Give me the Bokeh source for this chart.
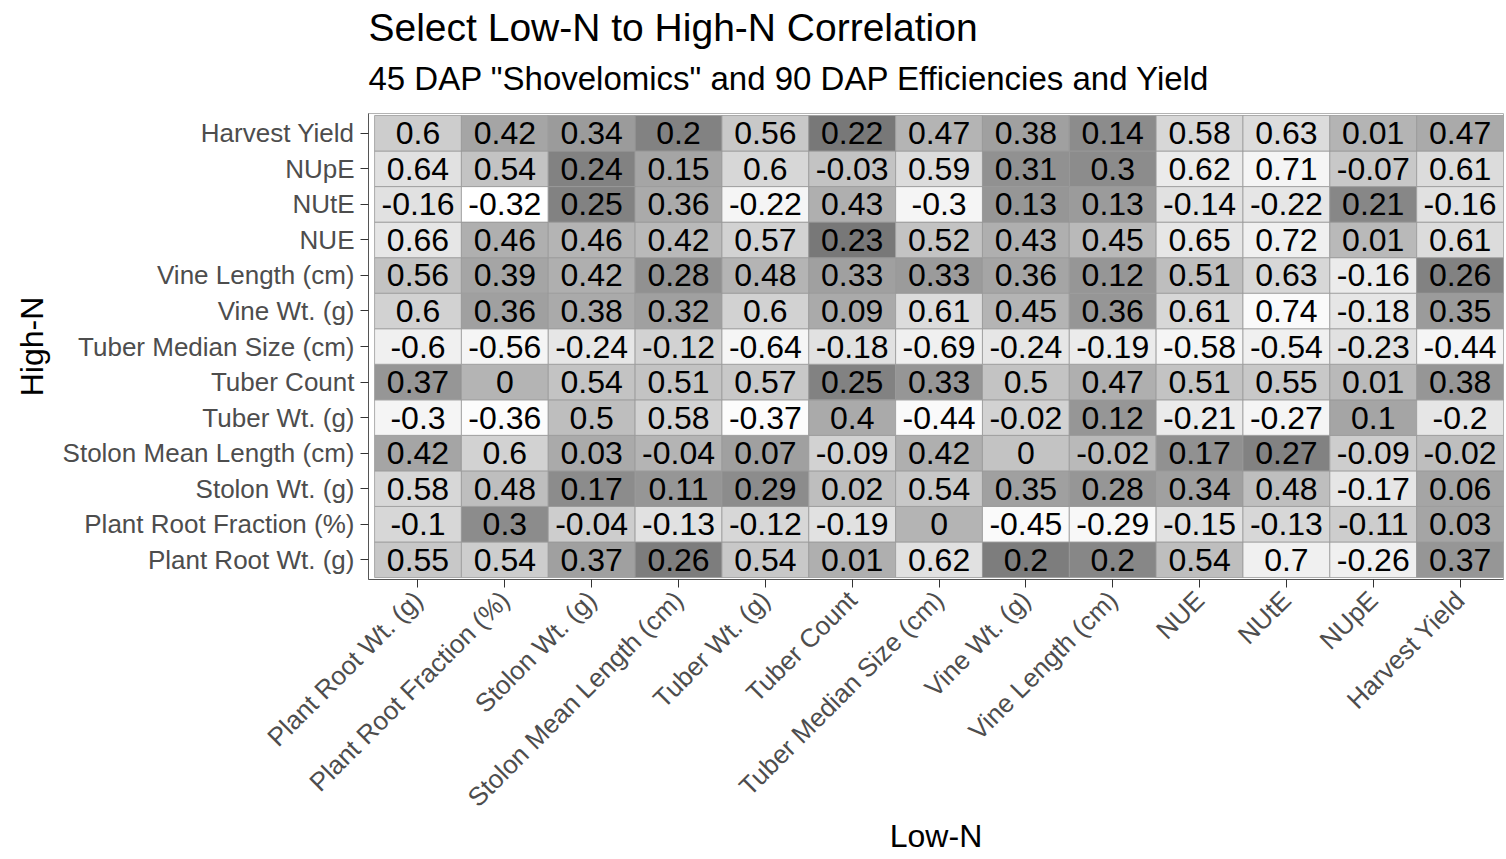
import math
from bokeh.plotting import figure
from bokeh.models import (ColumnDataSource, LinearColorMapper, FixedTicker, Range1d, Title)
from bokeh.transform import transform
from bokeh.core.properties import value
from bokeh.embed import file_html
from bokeh.resources import INLINE

# ---------------- data ----------------
traits = ["Plant Root Wt. (g)", "Plant Root Fraction (%)", "Stolon Wt. (g)",
          "Stolon Mean Length (cm)", "Tuber Wt. (g)", "Tuber Count",
          "Tuber Median Size (cm)", "Vine Wt. (g)", "Vine Length (cm)",
          "NUE", "NUtE", "NUpE", "Harvest Yield"]

# correlation values: one list per High-N trait (columns = Low-N traits, same order as traits)
r_plant_root_wt = [0.55, 0.54, 0.37, 0.26, 0.54, 0.01, 0.62, 0.2, 0.2, 0.54, 0.7, -0.26, 0.37]
r_plant_root_frac = [-0.1, 0.3, -0.04, -0.13, -0.12, -0.19, 0, -0.45, -0.29, -0.15, -0.13, -0.11, 0.03]
r_stolon_wt = [0.58, 0.48, 0.17, 0.11, 0.29, 0.02, 0.54, 0.35, 0.28, 0.34, 0.48, -0.17, 0.06]
r_stolon_len = [0.42, 0.6, 0.03, -0.04, 0.07, -0.09, 0.42, 0, -0.02, 0.17, 0.27, -0.09, -0.02]
r_tuber_wt = [-0.3, -0.36, 0.5, 0.58, -0.37, 0.4, -0.44, -0.02, 0.12, -0.21, -0.27, 0.1, -0.2]
r_tuber_count = [0.37, 0, 0.54, 0.51, 0.57, 0.25, 0.33, 0.5, 0.47, 0.51, 0.55, 0.01, 0.38]
r_tuber_size = [-0.6, -0.56, -0.24, -0.12, -0.64, -0.18, -0.69, -0.24, -0.19, -0.58, -0.54, -0.23, -0.44]
r_vine_wt = [0.6, 0.36, 0.38, 0.32, 0.6, 0.09, 0.61, 0.45, 0.36, 0.61, 0.74, -0.18, 0.35]
r_vine_len = [0.56, 0.39, 0.42, 0.28, 0.48, 0.33, 0.33, 0.36, 0.12, 0.51, 0.63, -0.16, 0.26]
r_nue = [0.66, 0.46, 0.46, 0.42, 0.57, 0.23, 0.52, 0.43, 0.45, 0.65, 0.72, 0.01, 0.61]
r_nute = [-0.16, -0.32, 0.25, 0.36, -0.22, 0.43, -0.3, 0.13, 0.13, -0.14, -0.22, 0.21, -0.16]
r_nupe = [0.64, 0.54, 0.24, 0.15, 0.6, -0.03, 0.59, 0.31, 0.3, 0.62, 0.71, -0.07, 0.61]
r_harvest = [0.6, 0.42, 0.34, 0.2, 0.56, 0.22, 0.47, 0.38, 0.14, 0.58, 0.63, 0.01, 0.47]

# fill variable (darkness level 0-255, read from the tile shading)
s_plant_root_wt = [55, 50, 95, 130, 55, 80, 30, 130, 120, 65, 15, 15, 105]
s_plant_root_frac = [40, 115, 50, 30, 40, 30, 75, 5, 7, 30, 40, 50, 90]
s_stolon_wt = [40, 65, 115, 105, 115, 65, 55, 95, 105, 95, 65, 25, 90]
s_stolon_len = [90, 45, 85, 75, 95, 45, 80, 60, 70, 110, 125, 50, 65]
s_tuber_wt = [10, 3, 65, 45, 3, 85, 5, 45, 105, 20, 10, 90, 25]
s_tuber_count = [105, 75, 60, 60, 55, 125, 105, 60, 80, 60, 55, 70, 105]
s_tuber_size = [15, 10, 25, 45, 10, 30, 15, 25, 20, 10, 15, 30, 10]
s_vine_wt = [45, 95, 85, 95, 45, 85, 35, 75, 105, 40, 5, 25, 100]
s_vine_len = [60, 90, 80, 110, 75, 95, 100, 90, 105, 65, 40, 20, 125]
s_nue = [25, 80, 75, 70, 45, 135, 60, 80, 70, 25, 15, 70, 35]
s_nute = [30, 0, 125, 85, 10, 80, 10, 105, 100, 30, 25, 120, 30]
s_nupe = [30, 60, 125, 90, 40, 60, 35, 110, 115, 20, 10, 55, 35]
s_harvest = [50, 90, 100, 125, 55, 135, 75, 95, 115, 40, 35, 75, 85]

rows_r = [r_plant_root_wt, r_plant_root_frac, r_stolon_wt, r_stolon_len, r_tuber_wt,
          r_tuber_count, r_tuber_size, r_vine_wt, r_vine_len, r_nue, r_nute, r_nupe, r_harvest]
rows_s = [s_plant_root_wt, s_plant_root_frac, s_stolon_wt, s_stolon_len, s_tuber_wt,
          s_tuber_count, s_tuber_size, s_vine_wt, s_vine_len, s_nue, s_nute, s_nupe, s_harvest]

xs, ys, vals, shades, labels = [], [], [], [], []
for yi, (rr, ss) in enumerate(zip(rows_r, rows_s)):
    for xi, (v, s) in enumerate(zip(rr, ss)):
        xs.append(xi)
        ys.append(yi)
        vals.append(v)
        shades.append(s)
        labels.append(f"{v:g}")

source = ColumnDataSource(dict(x=xs, y=ys, r=vals, shade=shades, label=labels))

FONT = "Liberation Sans"
n = len(traits)

p = figure(width=1506, height=859, output_backend="svg", toolbar_location=None,
           x_range=Range1d(-0.57, n - 0.5), y_range=Range1d(-0.556, n - 0.444),
           min_border_left=368, min_border_right=3, min_border_top=113, min_border_bottom=280)
p.title.text = "Select Low-N to High-N Correlation"
p.title.text_font = FONT
p.title.text_font_size = "39px"
p.title.text_font_style = "normal"
p.title.text_color = "black"
p.title.align = "left"
p.title.standoff = -16
p.add_layout(Title(text='45 DAP "Shovelomics" and 90 DAP Efficiencies and Yield',
                   text_font=FONT, text_font_size="33px", text_font_style="normal",
                   text_color="black", align="left", standoff=34), "above")

greys = ["#%02x%02x%02x" % (255 - i, 255 - i, 255 - i) for i in range(256)]
mapper = LinearColorMapper(palette=greys, low=0, high=255)

p.rect(x="x", y="y", width=1, height=1, source=source,
       fill_color=transform("shade", mapper), line_color="#999999", line_width=0.8)
p.text(x="x", y="y", text="label", source=source, text_align="center",
       text_baseline="middle", text_font=value(FONT), text_font_size="32px",
       text_color="black")

ticker = FixedTicker(ticks=list(range(n)), minor_ticks=[])
for ax in (p.xaxis[0], p.yaxis[0]):
    ax.ticker = ticker
    ax.major_label_overrides = {i: t for i, t in enumerate(traits)}
    ax.major_label_text_font = FONT
    ax.major_label_text_font_size = "26px"
    ax.major_label_text_color = "#4d4d4d"
    ax.major_tick_out = 8
    ax.major_tick_in = 0
    ax.major_tick_line_color = "#333333"
    ax.minor_tick_line_color = None
    ax.axis_line_color = "#555555"
    ax.axis_label_text_font = FONT
    ax.axis_label_text_font_size = "32px"
    ax.axis_label_text_font_style = "normal"
    ax.axis_label_text_color = "black"

p.xaxis.axis_label = "Low-N"
p.yaxis.axis_label = "High-N"
p.xaxis.major_label_orientation = math.pi / 4
p.xaxis.major_label_standoff = 8
p.yaxis.major_label_standoff = 6
p.yaxis.axis_label_standoff = 10
p.xaxis.axis_label_standoff = -8

p.grid.visible = False
p.outline_line_color = "#b3b3b3"
p.background_fill_color = "white"
p.border_fill_color = "white"

open("out.html", "w").write(file_html(p, INLINE))
